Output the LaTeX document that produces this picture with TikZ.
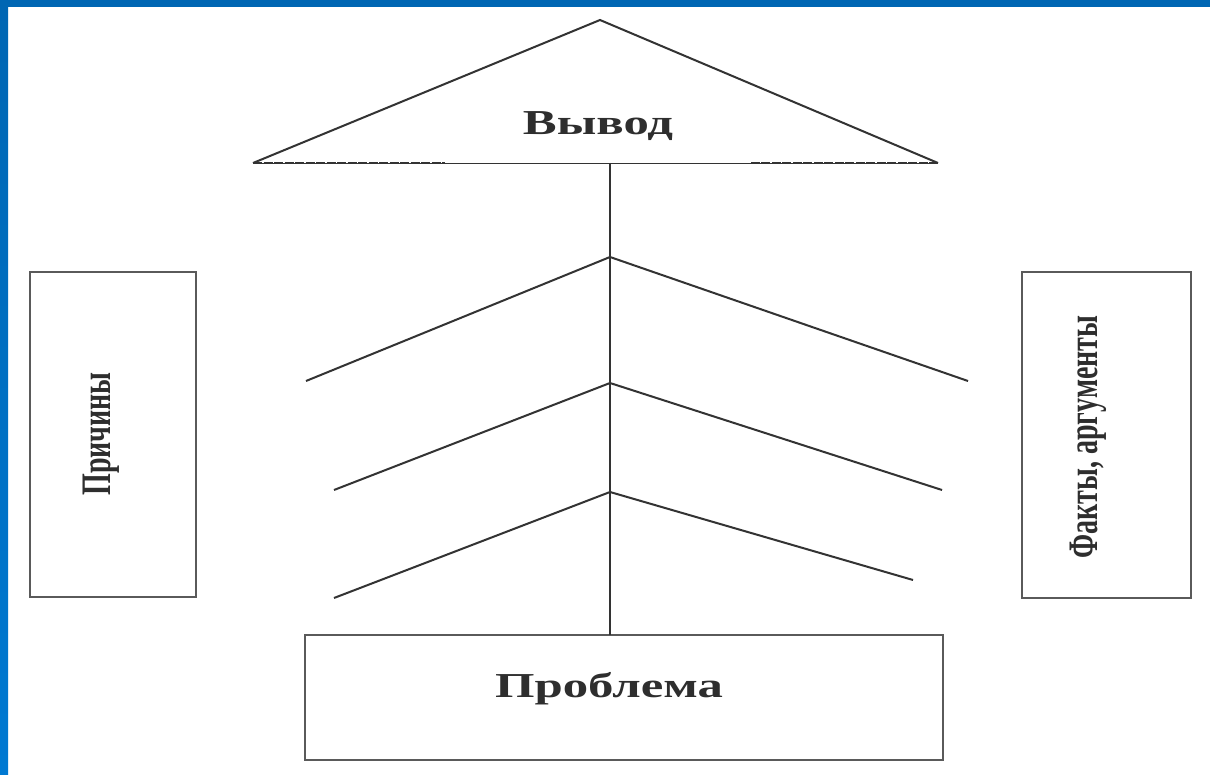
\documentclass[tikz,border=0pt]{standalone}
\usepackage{fontspec}
\setmainfont{Liberation Serif}
\usetikzlibrary{positioning,calc}
\definecolor{Frame}{HTML}{0066B3}
\definecolor{FrameLow}{HTML}{0079D2}
\definecolor{Ink}{HTML}{333333}
\definecolor{BoxInk}{HTML}{5A5A5A}
\definecolor{Txt}{HTML}{2E2E2E}

\begin{document}
\begin{tikzpicture}[x=1pt,y=-1pt,
    line/.style={draw=Ink,line width=2pt},
    box/.style={draw=BoxInk,line width=2.2pt,inner sep=0pt},
    lbl/.style={text=Txt,inner sep=0pt,anchor=base,font=\fontsize{35}{40}\selectfont\bfseries},
    vlbl/.style={lbl,rotate=90,font=\fontsize{28}{34}\selectfont\bfseries}]
    \useasboundingbox (0,0) rectangle (1210,775);
    \fill[white] (0,0) rectangle (1210,775);
    \fill[Frame] (0,0) rectangle (1210,7);
    \shade[top color=Frame,bottom color=FrameLow] (0,0) rectangle (8,775);
    % roof
    \coordinate (peak) at (600,20);
    \coordinate (eaveL) at (253,163);
    \coordinate (eaveR) at (938,163);
    \coordinate (hub) at (610,163);
    \draw[line] (eaveL) -- (peak) -- (eaveR);
    \draw[draw=Ink,line width=0.8pt] (eaveL) -- (eaveR);
    \draw[line,dash pattern=on 9pt off 1.5pt] (eaveL) -- ($(eaveL)!0.28!(eaveR)$);
    \draw[line,dash pattern=on 9pt off 1.5pt] (eaveR) -- ($(eaveR)!0.275!(eaveL)$);
    \node[lbl] (conclusion) at (598,135) {\scalebox{1.45}[1]{Вывод}};
    % boxes
    \node[box,minimum width=166pt,minimum height=325pt] (causes) at (113,434.5) {};
    \node[box,minimum width=169pt,minimum height=326pt] (facts) at (1106.5,435) {};
    \node[box,minimum width=638pt,minimum height=125pt] (problem) at (624,697.5) {};
    \node[vlbl] (causestext) at (110,434) {\scalebox{1}[1.5]{Причины}};
    \node[vlbl] (factstext) at (1097,437) {\scalebox{1}[1.5]{Факты, аргументы}};
    \node[lbl] (problemtext) at (609,697) {\scalebox{1.45}[1]{Проблема}};
    % spine and ribs
    \coordinate (foot) at (610,635);
    \draw[line] (hub) -- (foot);
    \foreach \i/\ay/\lx/\ly/\rx/\ry in {1/257/306/381/968/381,2/383/334/490/942/490,3/492/334/598/913/580}{
      \coordinate (rib\i) at (610,\ay);
      \coordinate (ribL\i) at (\lx,\ly);
      \coordinate (ribR\i) at (\rx,\ry);
      \draw[line] (ribL\i) -- (rib\i) -- (ribR\i);
    }
  \end{tikzpicture}
\end{document}
